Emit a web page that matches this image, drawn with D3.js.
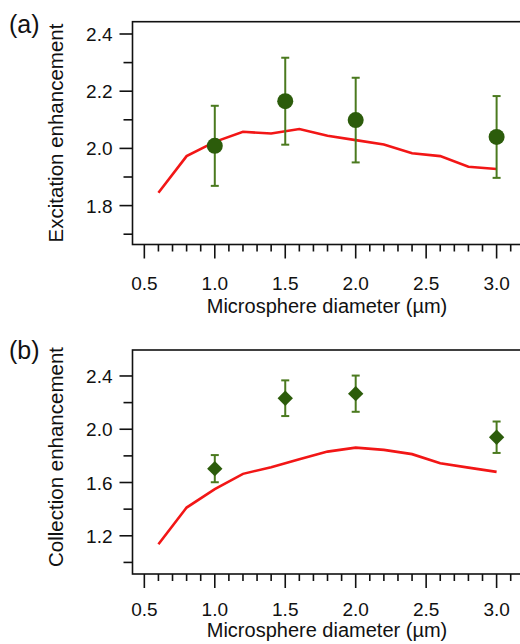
<meta charset="utf-8">
<head>
  <script src="https://cdn.jsdelivr.net/npm/d3@7"></script>
  <style>
    body { margin: 0; background: #fff; }
    text { font-family: Arial, "Liberation Sans", sans-serif; fill: #111; }
  </style>
</head>
<body>
  <svg id="svg" width="520" height="644"></svg>
  <script>
    // model curves (red lines)
    let modelX = [0.6, 0.8, 1.0, 1.2, 1.4, 1.6, 1.8, 2.0, 2.2, 2.4, 2.6, 2.8, 3.0];
    let excitationModel = [1.845, 1.973, 2.023, 2.058, 2.052, 2.068, 2.044, 2.029, 2.014, 1.983, 1.973, 1.936, 1.928];
    let collectionModel = [1.137, 1.412, 1.550, 1.665, 1.715, 1.775, 1.832, 1.862, 1.845, 1.813, 1.745, 1.712, 1.680];

    // measured points
    let measX = [1.0, 1.5, 2.0, 3.0];
    let excitationMeas = [2.009, 2.165, 2.099, 2.040];
    let excitationErr = [0.140, 0.152, 0.148, 0.143];
    let collectionMeas = [1.704, 2.233, 2.267, 1.940];
    let collectionErr = [0.102, 0.134, 0.136, 0.118];

    let xMajor = [0.5, 1.0, 1.5, 2.0, 2.5, 3.0];
    let excitationTicks = [1.8, 2.0, 2.2, 2.4];
    let collectionTicks = [1.2, 1.6, 2.0, 2.4];

    let svg = d3.select("#svg");
    let left = 132.5, right = 530;

    let x = d3.scaleLinear().domain([0.416, 3.237]).range([left, right]);

    function panel(opts) {
      let y = d3.scaleLinear().domain(opts.yDomain).range([opts.bottom, opts.top]);
      let g = svg.append("g");

      // frame
      g.append("rect")
        .attr("x", left).attr("y", opts.top)
        .attr("width", right - left).attr("height", opts.bottom - opts.top)
        .attr("fill", "none").attr("stroke", "#111").attr("stroke-width", 1.6);

      // x axis ticks
      let xMinor = d3.range(5, 33).map(d => d / 10).filter(d => !xMajor.some(m => Math.abs(m - d) < 1e-6));
      g.selectAll(".xminor").data(xMinor).enter().append("line")
        .attr("x1", d => x(d)).attr("x2", d => x(d))
        .attr("y1", opts.bottom).attr("y2", opts.bottom + 7)
        .attr("stroke", "#111").attr("stroke-width", 1.6);
      g.selectAll(".xmajor").data(xMajor).enter().append("line")
        .attr("x1", d => x(d)).attr("x2", d => x(d))
        .attr("y1", opts.bottom).attr("y2", opts.bottom + 14)
        .attr("stroke", "#111").attr("stroke-width", 1.6);
      g.selectAll(".xlab").data(xMajor).enter().append("text")
        .attr("x", d => x(d)).attr("y", opts.bottom + opts.tickOff)
        .attr("text-anchor", "middle").attr("font-size", 19)
        .text(d => d.toFixed(1));
      g.append("text")
        .attr("x", 327).attr("y", opts.bottom + opts.titleOff)
        .attr("text-anchor", "middle").attr("font-size", 20)
        .text("Microsphere diameter (µm)");

      // y axis ticks
      g.selectAll(".yminor").data(opts.yMinor).enter().append("line")
        .attr("x1", left - 9).attr("x2", left)
        .attr("y1", d => y(d)).attr("y2", d => y(d))
        .attr("stroke", "#111").attr("stroke-width", 1.6);
      g.selectAll(".ymajor").data(opts.yTicks).enter().append("line")
        .attr("x1", left - 13).attr("x2", left)
        .attr("y1", d => y(d)).attr("y2", d => y(d))
        .attr("stroke", "#111").attr("stroke-width", 1.6);
      g.selectAll(".ylab").data(opts.yTicks).enter().append("text")
        .attr("x", left - 20).attr("y", d => y(d) + 7)
        .attr("text-anchor", "end").attr("font-size", 19)
        .text(d => d.toFixed(1));
      g.append("text")
        .attr("transform", `translate(63,${opts.titleY}) rotate(-90)`)
        .attr("text-anchor", "middle").attr("font-size", 20.5)
        .text(opts.yTitle);
      g.append("text")
        .attr("x", 9).attr("y", opts.labelY)
        .attr("font-size", 25)
        .text(opts.label);

      // model line
      let line = d3.line().x(d => x(d[0])).y(d => y(d[1]));
      g.append("path")
        .datum(modelX.map((d, i) => [d, opts.model[i]]))
        .attr("d", line)
        .attr("fill", "none").attr("stroke", "#f21616").attr("stroke-width", 2.6);

      // error bars
      let pts = measX.map((d, i) => ({x: d, y: opts.meas[i], e: opts.err[i]}));
      let eb = g.selectAll(".err").data(pts).enter().append("g").attr("stroke", "#4b7a1f").attr("stroke-width", 2);
      eb.append("line")
        .attr("x1", d => x(d.x)).attr("x2", d => x(d.x))
        .attr("y1", d => y(d.y + d.e)).attr("y2", d => y(d.y - d.e));
      eb.append("line")
        .attr("x1", d => x(d.x) - 4).attr("x2", d => x(d.x) + 4)
        .attr("y1", d => y(d.y + d.e)).attr("y2", d => y(d.y + d.e));
      eb.append("line")
        .attr("x1", d => x(d.x) - 4).attr("x2", d => x(d.x) + 4)
        .attr("y1", d => y(d.y - d.e)).attr("y2", d => y(d.y - d.e));

      // markers
      if (opts.marker === "circle") {
        g.selectAll(".pt").data(pts).enter().append("circle")
          .attr("cx", d => x(d.x)).attr("cy", d => y(d.y)).attr("r", 8)
          .attr("fill", "#2c5c0b");
      } else {
        g.selectAll(".pt").data(pts).enter().append("path")
          .attr("d", d3.symbol(d3.symbolSquare).size(118))
          .attr("transform", d => `translate(${x(d.x)},${y(d.y)}) rotate(45)`)
          .attr("fill", "#2c5c0b");
      }
    }

    panel({
      top: 21.7, bottom: 244.5, yDomain: [1.664, 2.443],
      yTicks: excitationTicks, yMinor: [1.7, 1.9, 2.1, 2.3],
      model: excitationModel, meas: excitationMeas, err: excitationErr,
      marker: "circle", yTitle: "Excitation enhancement", titleY: 133, label: "(a)",
      labelY: 33, tickOff: 45, titleOff: 68.5
    });

    panel({
      top: 350, bottom: 574, yDomain: [0.913, 2.595],
      yTicks: collectionTicks, yMinor: [1.0, 1.4, 1.8, 2.2],
      model: collectionModel, meas: collectionMeas, err: collectionErr,
      marker: "diamond", yTitle: "Collection enhancement", titleY: 457, label: "(b)",
      labelY: 359, tickOff: 41.5, titleOff: 63
    });
  </script>
</body>
